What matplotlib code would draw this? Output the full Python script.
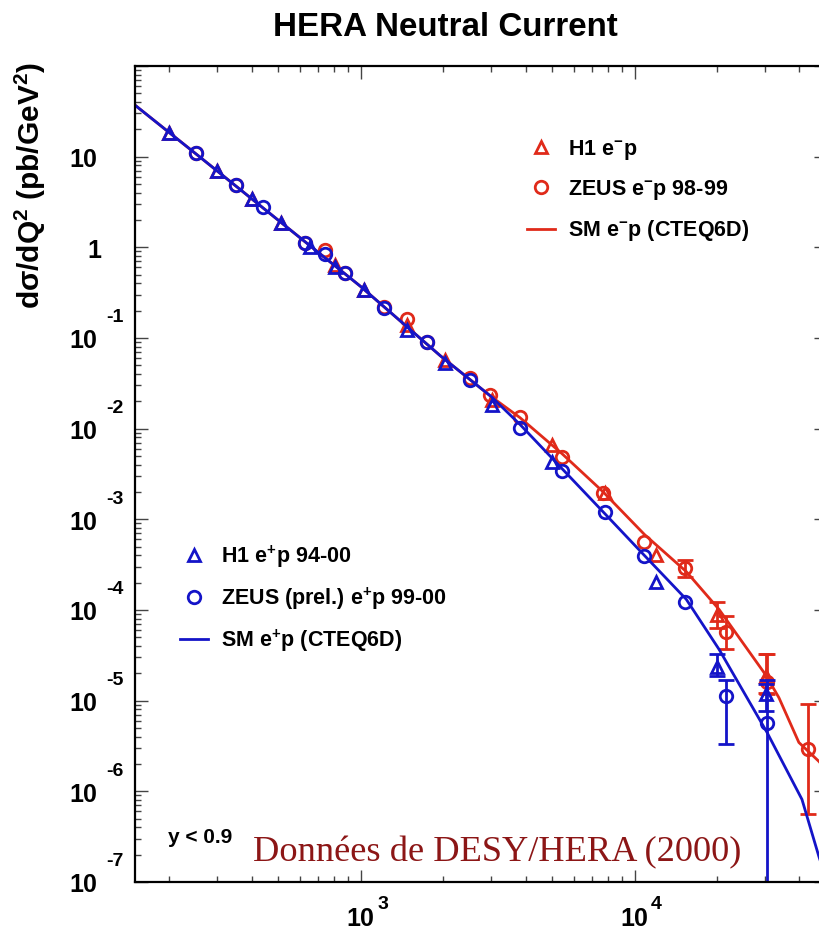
import numpy as np
import matplotlib
matplotlib.use('Agg')
import matplotlib.pyplot as plt
import matplotlib.transforms as mtransforms
from matplotlib.ticker import LogLocator, NullFormatter

plt.rcParams['font.family'] = ['Liberation Sans', 'DejaVu Sans']
plt.rcParams['mathtext.fontset'] = 'custom'
plt.rcParams['mathtext.rm'] = 'Liberation Sans:bold'
plt.rcParams['mathtext.it'] = 'Liberation Sans:bold'
plt.rcParams['mathtext.bf'] = 'Liberation Sans:bold'
plt.rcParams['mathtext.default'] = 'rm'

RED = '#e02a1a'
BLUE = '#1414c8'

# Standard Model curves (Q^2 in GeV^2, dsigma/dQ^2 in pb/GeV^2)
sm_common_q2 = [150, 260, 510, 1000, 1950, 3000]
sm_common = [37, 9.8, 1.9, 0.37, 0.064, 0.0225]
sm_em_q2 = [3820, 5430, 7650, 10870, 15450, 20370, 30200, 33650, 39800, 47100, 50000]
sm_em = [0.0132, 5.31e-3, 2.03e-3, 6.8e-4, 2.65e-4, 1.01e-4, 1.9e-5, 1.08e-5, 3.46e-6, 2.14e-6, 1.73e-6]
sm_ep_q2 = [3820, 7656, 10870, 15450, 20370, 30460, 40850, 47100, 50000]
sm_ep = [0.0111, 1.22e-3, 3.99e-4, 1.31e-4, 3.66e-5, 4.46e-6, 8.15e-7, 1.91e-7, 1.1e-7]

# H1 e+p 94-00
h1_ep_q2 = [200, 300, 400, 512, 652, 804, 1030, 1480, 2040, 3020, 4990, 12000, 20000, 30200]
h1_ep = [18.4, 7.0, 3.44, 1.87, 1.02, 0.613, 0.342, 0.124, 0.0536, 0.0184, 4.34e-3, 2.06e-4, 2.38e-5, 1.17e-5]
h1_ep_err_q2 = [20000, 30200]
h1_ep_err_lo = [1.85e-5, 7.6e-6]
h1_ep_err_hi = [3.23e-5, 1.51e-5]

# ZEUS (prel.) e+p 99-00
zeus_ep_q2 = [250, 350, 440, 626, 740, 875, 1220, 1750, 2510, 3820, 5430, 7780, 10800, 15300, 21600, 30500]
zeus_ep = [11.1, 4.91, 2.81, 1.13, 0.852, 0.526, 0.216, 0.0912, 0.0348, 0.0103, 3.37e-3, 1.22e-3, 3.99e-4, 1.24e-4, 1.14e-5, 5.61e-6]
zeus_ep_err_q2 = [21600, 30500]
zeus_ep_err_lo = [3.29e-6, 1e-9]
zeus_ep_err_hi = [1.71e-5, 1.71e-5]

# H1 e-p
h1_em_q2 = [200, 300, 400, 512, 804, 1030, 1480, 2040, 3020, 4990, 7780, 12000, 20000, 30200]
h1_em = [18.4, 7.0, 3.44, 1.87, 0.645, 0.342, 0.14, 0.0578, 0.0209, 6.68e-3, 1.975e-3, 4.09e-4, 8.92e-5, 1.85e-5]
h1_em_err_q2 = [20000, 30200]
h1_em_err_lo = [6.41e-5, 1.23e-5]
h1_em_err_hi = [1.21e-4, 3.23e-5]

# ZEUS e-p 98-99
zeus_em_q2 = [250, 350, 626, 740, 875, 1220, 1480, 1750, 2510, 2970, 3820, 5430, 7650, 10870, 15330, 21600, 30500, 42900]
zeus_em = [11.1, 4.91, 1.13, 0.943, 0.526, 0.222, 0.16, 0.0912, 0.0366, 0.0238, 0.0136, 4.93e-3, 1.975e-3, 5.69e-4, 2.94e-4, 5.79e-5, 1.59e-5, 2.9e-6]
zeus_em_err_q2 = [15330, 21600, 30500, 42900]
zeus_em_err_lo = [2.34e-4, 3.67e-5, 1.17e-5, 5.56e-7]
zeus_em_err_hi = [3.6e-4, 8.48e-5, 3.23e-5, 9.08e-6]

ytick_vals = [1e1, 1e0, 1e-1, 1e-2, 1e-3, 1e-4, 1e-5, 1e-6, 1e-7]
ytick_base = ['10', '1', '10', '10', '10', '10', '10', '10', '10']
ytick_exp = ['', '', '-1', '-2', '-3', '-4', '-5', '-6', '-7']
xtick_vals = [1e3, 1e4]
xtick_exp = ['3', '4']

fig = plt.figure(figsize=(8.2, 9.33), dpi=100)
ax = fig.add_axes([135 / 820, 1 - 882 / 933, 691 / 820, 816 / 933])
ax.set_xscale('log')
ax.set_yscale('log')
ax.set_xlim(150, 5e4)
ax.set_ylim(1e-7, 1e2)


def err(vals, lo, hi):
    v = np.array(vals)
    return [v - np.array(lo), np.array(hi) - v]


def lookup(q2s, vals, qs):
    d = dict(zip(q2s, vals))
    return [d[q] for q in qs]


mk = dict(ls='none', ms=9, mfc='none', mew=2)
eb = dict(fmt='none', elinewidth=2, capsize=6, capthick=2)

# e-p (red) first
ax.plot(sm_common_q2 + sm_em_q2, sm_common + sm_em, color=RED, lw=2)
ax.errorbar(h1_em_err_q2, lookup(h1_em_q2, h1_em, h1_em_err_q2),
            yerr=err(lookup(h1_em_q2, h1_em, h1_em_err_q2), h1_em_err_lo, h1_em_err_hi),
            ecolor=RED, **eb)
ax.errorbar(zeus_em_err_q2, lookup(zeus_em_q2, zeus_em, zeus_em_err_q2),
            yerr=err(lookup(zeus_em_q2, zeus_em, zeus_em_err_q2), zeus_em_err_lo, zeus_em_err_hi),
            ecolor=RED, **eb)
l_h1_em, = ax.plot(h1_em_q2, h1_em, marker='^', mec=RED, **mk)
l_zeus_em, = ax.plot(zeus_em_q2, zeus_em, marker='o', mec=RED, **mk)
l_sm_em, = ax.plot([], [], color=RED, lw=2)

# e+p (blue)
ax.plot(sm_common_q2 + sm_ep_q2, sm_common + sm_ep, color=BLUE, lw=2)
ax.errorbar(h1_ep_err_q2, lookup(h1_ep_q2, h1_ep, h1_ep_err_q2),
            yerr=err(lookup(h1_ep_q2, h1_ep, h1_ep_err_q2), h1_ep_err_lo, h1_ep_err_hi),
            ecolor=BLUE, **eb)
ax.errorbar(zeus_ep_err_q2, lookup(zeus_ep_q2, zeus_ep, zeus_ep_err_q2),
            yerr=err(lookup(zeus_ep_q2, zeus_ep, zeus_ep_err_q2), zeus_ep_err_lo, zeus_ep_err_hi),
            ecolor=BLUE, **eb)
l_h1_ep, = ax.plot(h1_ep_q2, h1_ep, marker='^', mec=BLUE, **mk)
l_zeus_ep, = ax.plot(zeus_ep_q2, zeus_ep, marker='o', mec=BLUE, **mk)
l_sm_ep, = ax.plot([], [], color=BLUE, lw=2)

# ticks, ROOT style
ax.xaxis.set_major_locator(LogLocator(base=10, numticks=20))
ax.yaxis.set_major_locator(LogLocator(base=10, numticks=20))
ax.xaxis.set_minor_locator(LogLocator(base=10, subs=np.arange(2, 10), numticks=100))
ax.yaxis.set_minor_locator(LogLocator(base=10, subs=np.arange(2, 10), numticks=100))
ax.xaxis.set_minor_formatter(NullFormatter())
ax.yaxis.set_minor_formatter(NullFormatter())
ax.tick_params(which='both', direction='in', top=True, right=True,
               labelbottom=False, labelleft=False, color='#444444')
ax.tick_params(which='major', length=9, width=1)
ax.tick_params(which='minor', length=4.5, width=1)
for s in ax.spines.values():
    s.set_linewidth(1.6)

ytrans = mtransforms.blended_transform_factory(ax.transAxes, ax.transData)
for v, b, e in zip(ytick_vals, ytick_base, ytick_exp):
    dx = -27 if b == '10' else -24.5
    ax.annotate(b, xy=(0, v), xycoords=ytrans, xytext=(dx, -2.5), textcoords='offset points',
                ha='right', va='center', fontsize=18, fontweight='bold', annotation_clip=False)
    if e:
        ax.annotate(e, xy=(0, v), xycoords=ytrans, xytext=(-21, 14.5), textcoords='offset points',
                    ha='left', va='center', fontsize=14, fontweight='bold', annotation_clip=False)

xtrans = mtransforms.blended_transform_factory(ax.transData, ax.transAxes)
for v, e in zip(xtick_vals, xtick_exp):
    ax.annotate('10', xy=(v, 0), xycoords=xtrans, xytext=(0, -26.5), textcoords='offset points',
                ha='center', va='center', fontsize=18, fontweight='bold', annotation_clip=False)
    ax.annotate(e, xy=(v, 0), xycoords=xtrans, xytext=(12, -16.5), textcoords='offset points',
                ha='left', va='center', fontsize=14, fontweight='bold', annotation_clip=False)

leg1 = ax.legend([l_h1_em, l_zeus_em, l_sm_em],
                 ['H1 e$^{-}$p', 'ZEUS e$^{-}$p 98-99', 'SM e$^{-}$p (CTEQ6D)'],
                 loc='upper left', bbox_to_anchor=(0.567, 0.912), frameon=False,
                 prop={'weight': 'bold', 'size': 15.5}, handlelength=1.3, handletextpad=0.6,
                 labelspacing=0.75, borderpad=0, borderaxespad=0)
ax.add_artist(leg1)
ax.legend([l_h1_ep, l_zeus_ep, l_sm_ep],
          ['H1 e$^{+}$p 94-00', 'ZEUS (prel.) e$^{+}$p 99-00', 'SM e$^{+}$p (CTEQ6D)'],
          loc='upper left', bbox_to_anchor=(0.065, 0.415), frameon=False,
          prop={'weight': 'bold', 'size': 15.5}, handlelength=1.3, handletextpad=0.6,
          labelspacing=0.72, borderpad=0, borderaxespad=0)

ax.text(0.048, 0.055, 'y < 0.9', transform=ax.transAxes, ha='left', va='center',
        fontsize=15, fontweight='bold')

fig.text(445 / 820, 1 - 28 / 933, 'HERA Neutral Current', ha='center', va='center',
         fontsize=23.9, fontweight='bold')
fig.text(30 / 820, 1 - 62 / 933, 'dσ/dQ$^{2}$ (pb/GeV$^{2}$)', rotation=90,
         ha='center', va='top', fontsize=21.5, fontweight='bold')
fig.text(253 / 820, 1 - 861 / 933, 'Données de DESY/HERA (2000)', ha='left', va='baseline',
         fontsize=26.2, color='#8c1616', family=['Liberation Serif', 'DejaVu Serif'])

fig.savefig('out.png', dpi=100, facecolor='white')
